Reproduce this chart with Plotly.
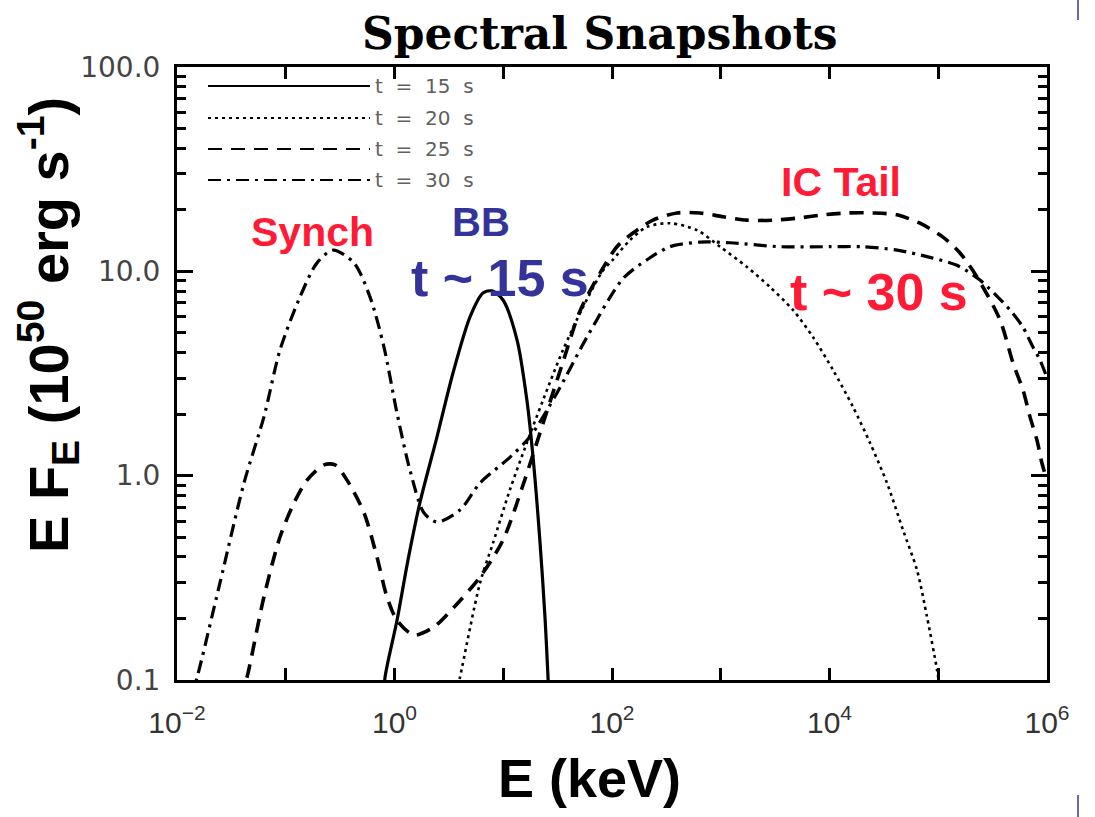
import plotly.graph_objects as go

# ---------------- data ----------------
energy_t15 = [0.80, 0.818, 1.055, 1.33, 1.71, 2.46, 3.45, 4.94, 6.51, 7.88, 9.95, 13.4, 16.5, 18.8, 21.8, 24.2, 25.8, 26.3]
flux_t15   = [0.080, 0.103, 0.196, 0.386, 0.735, 1.55, 3.18, 5.97, 7.83, 8.02, 7.24, 4.61, 2.34, 1.23, 0.468, 0.203, 0.103, 0.080]

energy_t20 = [3.6, 4.0, 6.11, 8.05, 11.5, 16.5, 23.2, 35.4, 54.1, 82.6, 102, 146, 210, 341, 605, 985,
              1742, 2836, 4613, 7046, 10770, 16440, 23550, 33800, 47430, 63800, 78900, 97500, 103800]
flux_t20   = [0.080, 0.103, 0.298, 0.468, 0.851, 1.45, 2.34, 4.12, 6.68, 10.1, 11.4, 14.2, 16.5, 17.2, 15.9, 13.2,
              10.5, 8.38, 6.47, 4.77, 3.29, 2.17, 1.45, 0.92, 0.542, 0.345, 0.203, 0.112, 0.089]

energy_t25 = [0.038, 0.044, 0.063, 0.0885, 0.119, 0.157, 0.225, 0.284, 0.366, 0.525, 0.69, 0.853, 1.055, 1.51,
              2.31, 3.52, 6.11, 9.95, 15.2, 23.2, 35.4, 50.8, 77.6, 111, 156, 238, 396, 645, 1050, 1742, 3020,
              5020, 8710, 14480, 25100, 41800, 67900, 110700, 158500, 227000, 370000, 487000, 601000, 698000,
              809000, 899000, 1000000]
flux_t25   = [0.080, 0.103, 0.255, 0.501, 0.735, 0.951, 1.13, 1.13, 0.951, 0.656, 0.40, 0.255, 0.196, 0.166,
              0.182, 0.227, 0.319, 0.484, 0.90, 1.80, 3.6, 6.4, 9.8, 13.2, 15.4, 17.8, 19.3, 19.3, 18.5, 17.8, 17.8,
              18.2, 18.9, 19.3, 19.3, 18.9, 17.2, 14.7, 12.3, 9.38, 5.78, 3.56, 2.63, 1.94,
              1.49, 1.15, 0.95]

energy_t30 = [0.0132, 0.0153, 0.0248, 0.0413, 0.063, 0.0885, 0.135, 0.194, 0.272, 0.424, 0.596, 0.80, 1.055,
              1.39, 1.87, 2.46, 4.0, 6.11, 11.5, 17.6, 31.2, 58.9, 126, 210, 341, 645, 1216, 3510, 10120,
              20300, 41800, 84000, 148600, 242000, 457000, 601000, 743000, 862000, 1000000]
flux_t30   = [0.080, 0.103, 0.298, 0.92, 1.94, 4.12, 7.48, 11.0, 12.7, 11.0, 7.48, 4.26, 2.02,
              1.06, 0.656, 0.593, 0.679, 0.92, 1.23, 1.55, 2.54, 4.77, 9.2, 11.4, 13.2, 13.9, 13.8, 13.2, 13.2,
              13.2, 12.7, 11.7, 10.7, 9.06, 6.47, 5.33, 4.26, 3.68, 3.01]

series_names = ["t = 15 s", "t = 20 s", "t = 25 s", "t = 30 s"]

x_tickvals = [1e-2, 1e-1, 1e0, 1e1, 1e2, 1e3, 1e4, 1e5, 1e6]
x_ticktext = ["10<sup>\u22122</sup>", "", "10<sup>0</sup>", "", "10<sup>2</sup>", "", "10<sup>4</sup>", "", "10<sup>6</sup>"]
y_tickvals = [0.1, 1.0, 10.0, 100.0]
y_ticktext = ["0.1", "1.0", "10.0", "100.0"]

# ---------------- layout geometry ----------------
W, H = 1095, 817
L, R, T, B = 177, 1047, 67, 680


def px(xp):
    return (xp - L) / (R - L)


def py(yp):
    return (B - yp) / (B - T)


styles = [
    dict(dash="solid", width=3.2),
    dict(dash="3px,4px", width=2.6),
    dict(dash="14px,9px", width=3.6),
    dict(dash="13px,6px,3px,6px", width=3.2),
]

fig = go.Figure()
for (xs, ys), name, st in zip(
    [(energy_t15, flux_t15), (energy_t20, flux_t20), (energy_t25, flux_t25), (energy_t30, flux_t30)],
    series_names, styles):
    fig.add_trace(go.Scatter(x=xs, y=ys, mode="lines", name=name,
                             line=dict(color="black", width=st["width"], dash=st["dash"],
                                       shape="spline", smoothing=0.8),
                             showlegend=False))

shapes = []
annotations = []

# manual legend (long line samples as in the original)
legend_rows = [86, 118, 149, 180]
for yy, name, st in zip(legend_rows, series_names, styles):
    shapes.append(dict(type="line", xref="paper", yref="paper",
                       x0=px(208), x1=px(370), y0=py(yy), y1=py(yy),
                       line=dict(color="black", width=2.2, dash=st["dash"])))
    annotations.append(dict(xref="paper", yref="paper", x=px(373), y=py(yy),
                            xanchor="left", yanchor="middle", showarrow=False,
                            text=name.replace(" ", "\u00a0\u00a0"),
                            font=dict(family="DejaVu Sans", size=20, color="#606060")))

red = "#FF1A35"
blue = "#33339A"
labels = [
    ("<b>Synch</b>", 312, 232, 41, red),
    ("<b>BB</b>", 481, 222, 40, blue),
    ("<b>t ~ 15 s</b>", 500, 278, 52, blue),
    ("<b>IC Tail</b>", 841, 182, 41, red),
    ("<b>t ~ 30 s</b>", 879, 292, 52, red),
]
for txt, xx, yy, sz, col in labels:
    annotations.append(dict(xref="paper", yref="paper", x=px(xx), y=py(yy),
                            xanchor="center", yanchor="middle", showarrow=False, text=txt,
                            font=dict(family="Liberation Sans, Arial", size=sz, color=col)))

# title and axis titles
annotations.append(dict(xref="paper", yref="paper", x=px(600), y=py(33), xanchor="center", yanchor="middle",
                        showarrow=False, text="<b>Spectral Snapshots</b>",
                        font=dict(family="DejaVu Serif", size=44, color="black")))
annotations.append(dict(xref="paper", yref="paper", x=px(589), y=py(778), xanchor="center", yanchor="middle",
                        showarrow=False, text="<b>E (keV)</b>",
                        font=dict(family="Liberation Sans, Arial", size=54, color="black")))
annotations.append(dict(xref="paper", yref="paper", x=px(48), y=py(325), xanchor="center", yanchor="middle",
                        showarrow=False, textangle=-90,
                        text="<b>E F<sub>E</sub> (10<sup>50</sup> erg s<sup>-1</sup>)</b>",
                        font=dict(family="Liberation Sans, Arial", size=56, color="black")))

# slide decoration marks at the right edge
for y0, y1 in [(0, 20), (795, 817)]:
    shapes.append(dict(type="line", xref="paper", yref="paper", x0=px(1078), x1=px(1078),
                       y0=py(y0), y1=py(y1), line=dict(color="#3535A8", width=1.5)))

minor_y = [m * 10 ** e for e in (-1, 0, 1) for m in range(2, 10)]

fig.update_xaxes(type="log", range=[-2, 6], showline=True, linecolor="black", linewidth=3,
                 mirror="allticks", ticks="inside", ticklen=12, tickwidth=3, tickcolor="black",
                 tickmode="array", tickvals=x_tickvals, ticktext=x_ticktext,
                 showgrid=False, zeroline=False, ticklabelstandoff=14,
                 tickfont=dict(family="Liberation Sans, Arial", size=30, color="#333333"))
fig.update_yaxes(type="log", range=[-1, 2], showline=True, linecolor="black", linewidth=3,
                 mirror="allticks", ticks="inside", ticklen=16, tickwidth=3, tickcolor="black",
                 tickmode="array", tickvals=y_tickvals, ticktext=y_ticktext,
                 showgrid=False, zeroline=False, ticklabelstandoff=8,
                 minor=dict(ticks="inside", ticklen=9, tickwidth=2.5, tickcolor="black",
                            tickvals=minor_y, showgrid=False),
                 tickfont=dict(family="DejaVu Sans", size=28, color="#444444"))

fig.update_layout(width=W, height=H, margin=dict(l=L, r=W - R, t=T, b=H - B, pad=0),
                  paper_bgcolor="white", plot_bgcolor="white", showlegend=False,
                  shapes=shapes, annotations=annotations)

fig.write_html("out.html")
